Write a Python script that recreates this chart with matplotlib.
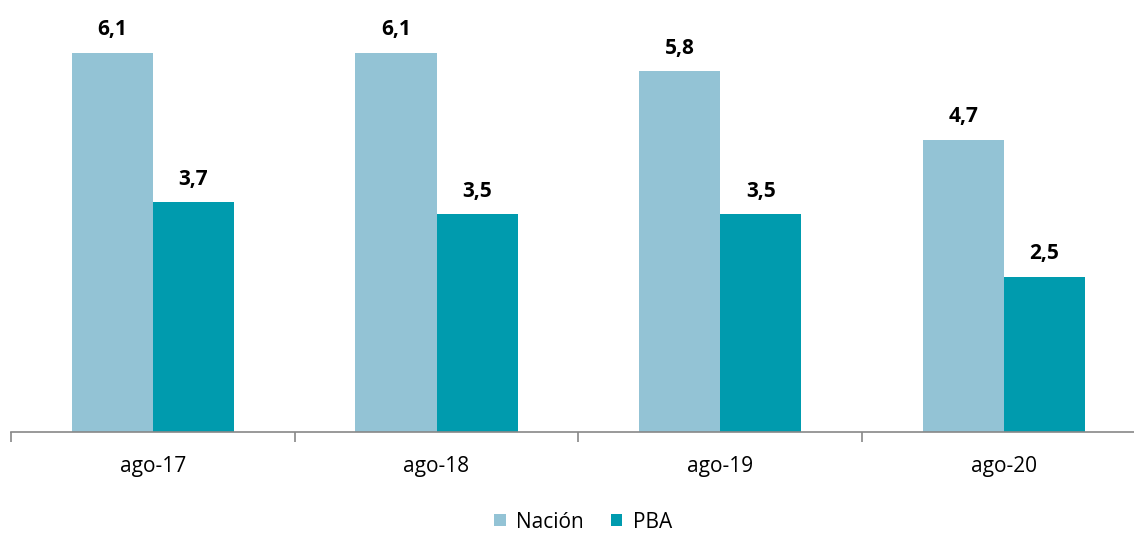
import numpy as np
from matplotlib import pyplot as plt

categories = ["ago-17", "ago-18", "ago-19", "ago-20"]
nacion = [6.1, 6.1, 5.8, 4.7]
pba = [3.7, 3.5, 3.5, 2.5]
value_labels_nacion = ["6,1", "6,1", "5,8", "4,7"]
value_labels_pba = ["3,7", "3,5", "3,5", "2,5"]

plt.rcParams['font.family'] = ['Open Sans', 'DejaVu Sans']

fig = plt.figure(figsize=(11.34, 5.34), dpi=100)
ax = fig.add_axes([11 / 1134, 102 / 534, 1134.7 / 1134, 432 / 534])

x = np.arange(len(categories))
width = 0.286

bars_n = ax.bar(x - width / 2, nacion, width, color="#93c3d5", label="Nación")
bars_p = ax.bar(x + width / 2, pba, width, color="#009bae", label="PBA")

for bars, labels in ((bars_n, value_labels_nacion), (bars_p, value_labels_pba)):
    for b, lab in zip(bars, labels):
        ax.annotate(lab, (b.get_x() + b.get_width() / 2, b.get_height()),
                    xytext=(0, 9), textcoords="offset points",
                    ha="center", va="bottom", fontsize=15, fontweight="bold")

ax.set_xlim(-0.5, len(categories) - 0.5)
ax.set_ylim(0, 6.95)

for s in ("top", "right", "left"):
    ax.spines[s].set_visible(False)
ax.spines["bottom"].set_color("#888888")
ax.spines["bottom"].set_linewidth(1.2)
ax.set_yticks([])

ax.set_xticks(np.arange(-0.5, len(categories)), minor=False)
ax.set_xticklabels([])
ax.tick_params(axis="x", which="major", direction="out", length=7, color="#888888", width=1.2)
ax.set_xticks(x, minor=True)
ax.set_xticklabels(categories, minor=True, fontsize=15)
ax.tick_params(axis="x", which="minor", length=0, pad=17)

fig.legend(loc="center", bbox_to_anchor=(583 / 1134, 1 - 522 / 534), ncol=2, frameon=False,
           fontsize=15, handlelength=0.55, handleheight=0.55, columnspacing=1.3,
           handletextpad=0.5)

fig.savefig("out.png", dpi=100)
